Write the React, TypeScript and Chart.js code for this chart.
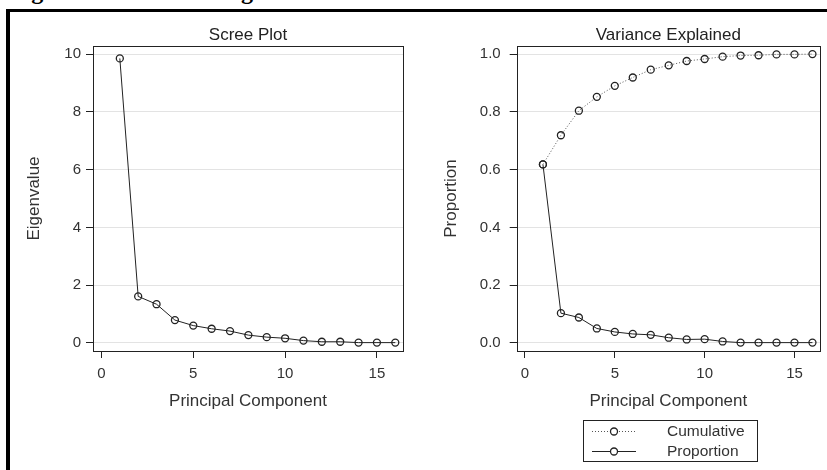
import React, { useEffect, useRef } from "react";
import { Chart, registerables } from "chart.js";

Chart.register(...registerables);

// ---- data ----
const components = [1, 2, 3, 4, 5, 6, 7, 8, 9, 10, 11, 12, 13, 14, 15, 16];
const eigenvalues = [9.85, 1.61, 1.34, 0.79, 0.6, 0.49, 0.41, 0.27, 0.2, 0.16, 0.08, 0.04, 0.04, 0.01, 0.01, 0.01];
const proportion = [0.618, 0.103, 0.088, 0.05, 0.038, 0.031, 0.028, 0.018, 0.012, 0.013, 0.005, 0.001, 0.001, 0.001, 0.001, 0.001];
const cumulative = [0.618, 0.719, 0.804, 0.852, 0.89, 0.919, 0.946, 0.961, 0.976, 0.983, 0.991, 0.995, 0.996, 0.999, 0.999, 1.0];
const xTicks = [0, 5, 10, 15];
const eigenTicks = [0, 2, 4, 6, 8, 10];
const propTicks = [0, 0.2, 0.4, 0.6, 0.8, 1.0];
const legendLabels = ["Cumulative", "Proportion"];

const FONT = "'Liberation Sans', Arial, sans-serif";
const INK = "#222";
const TEXT = "#333";

const framePlugin = {
  id: "frame",
  afterDatasetsDraw(chart: any) {
    const { ctx, chartArea: a } = chart;
    ctx.save();
    ctx.strokeStyle = INK;
    ctx.lineWidth = 1;
    ctx.strokeRect(Math.round(a.left) + 0.5, Math.round(a.top) + 0.5, Math.round(a.right - a.left), Math.round(a.bottom - a.top));
    ctx.restore();
  },
};

const legendPlugin = {
  id: "boxLegend",
  afterDraw(chart: any, _args: any, opts: any) {
    if (!opts || !opts.show) return;
    const { ctx } = chart;
    const ds = chart.data.datasets;
    const x0 = opts.x, y0 = opts.y, w = opts.w, h = opts.h;
    ctx.save();
    ctx.strokeStyle = INK;
    ctx.lineWidth = 1;
    ctx.strokeRect(x0 + 0.5, y0 + 0.5, w, h);
    const rows = [opts.row1, opts.row2];
    ds.forEach((d: any, i: number) => {
      const cy = rows[i];
      ctx.beginPath();
      ctx.setLineDash(d.borderDash || []);
      ctx.strokeStyle = d.borderColor;
      ctx.lineWidth = d.borderWidth;
      ctx.moveTo(x0 + opts.lineStart, cy + 0.5);
      ctx.lineTo(x0 + opts.lineEnd, cy + 0.5);
      ctx.stroke();
      ctx.setLineDash([]);
      ctx.beginPath();
      ctx.arc(x0 + (opts.lineStart + opts.lineEnd) / 2, cy + 0.5, d.pointRadius, 0, Math.PI * 2);
      ctx.fillStyle = "#fff";
      ctx.fill();
      ctx.strokeStyle = d.pointBorderColor;
      ctx.lineWidth = d.pointBorderWidth;
      ctx.stroke();
      ctx.fillStyle = TEXT;
      ctx.font = `15.5px ${FONT}`;
      ctx.textBaseline = "middle";
      ctx.textAlign = "left";
      ctx.fillText(d.label, x0 + opts.textX, cy + 1);
    });
    ctx.restore();
  },
};

type PanelProps = {
  left: number;
  width: number;
  title: string;
  yTitle: string;
  yTicks: number[];
  yMin: number;
  yMax: number;
  yWidth: number;
  yTitlePad: number;
  yTickPad: number;
  padRight: number;
  decimals: number;
  datasets: any[];
  legend?: any;
};

function Panel(p: PanelProps) {
  const ref = useRef<HTMLCanvasElement | null>(null);
  useEffect(() => {
    if (!ref.current) return;
    const tickFont = { family: FONT, size: 15 };
    const titleFont = { family: FONT, size: 17, weight: "normal" as const };
    const chart = new Chart(ref.current, {
      type: "line",
      data: { datasets: p.datasets },
      plugins: [framePlugin, legendPlugin],
      options: {
        responsive: false,
        animation: false,
        devicePixelRatio: 1,
        events: [],
        layout: { padding: { left: 10, right: p.padRight, top: 0, bottom: 0 } },
        plugins: {
          legend: { display: false },
          tooltip: { enabled: false },
          title: {
            display: true,
            text: p.title,
            fullSize: false,
            color: INK,
            font: titleFont,
            padding: { top: 24.8, bottom: 0.8 },
          },
          boxLegend: p.legend || { show: false },
        } as any,
        scales: {
          x: {
            type: "linear",
            min: -0.46,
            max: 16.42,
            afterBuildTicks: (s: any) => {
              s.ticks = xTicks.map((v) => ({ value: v }));
            },
            afterFit: (s: any) => {
              s.height = 119;
            },
            border: { display: false },
            grid: { drawOnChartArea: false, drawTicks: true, tickLength: 7, tickColor: INK, tickWidth: 1 },
            ticks: { font: tickFont, color: TEXT, padding: 7, maxRotation: 0, autoSkip: false, callback: (v: any) => String(v) },
            title: { display: true, text: "Principal Component", font: titleFont, color: TEXT, padding: { top: 0, bottom: 58.8 } },
          },
          y: {
            type: "linear",
            min: p.yMin,
            max: p.yMax,
            afterBuildTicks: (s: any) => {
              s.ticks = p.yTicks.map((v) => ({ value: v }));
            },
            afterFit: (s: any) => {
              s.width = p.yWidth;
            },
            border: { display: false },
            grid: { color: "#e3e3e3", lineWidth: 1, drawTicks: true, tickLength: 7, tickColor: INK, tickWidth: 1 },
            ticks: { font: tickFont, color: TEXT, padding: p.yTickPad, autoSkip: false, callback: (v: any) => Number(v).toFixed(p.decimals) },
            title: { display: true, text: p.yTitle, font: titleFont, color: TEXT, padding: { top: p.yTitlePad, bottom: 0 } },
          },
        },
      } as any,
    });
    return () => chart.destroy();
  }, []);
  return (
    <canvas
      ref={ref}
      width={p.width}
      height={470}
      style={{ position: "absolute", left: p.left, top: 0, width: p.width, height: 470, display: "block" }}
    />
  );
}

const pointStyleBase = {
  pointRadius: 3.5,
  pointBorderWidth: 1.3,
  pointBorderColor: "#222",
  pointBackgroundColor: "rgba(255,255,255,0)",
  fill: false,
  tension: 0,
};

export default function App() {
  const eigenSet = [
    {
      label: "Eigenvalue",
      data: components.map((c, i) => ({ x: c, y: eigenvalues[i] })),
      borderColor: "#222",
      borderWidth: 1,
      ...pointStyleBase,
    },
  ];
  const varSets = [
    {
      label: legendLabels[0],
      data: components.map((c, i) => ({ x: c, y: cumulative[i] })),
      borderColor: "#555",
      borderWidth: 1,
      borderDash: [1, 2],
      ...pointStyleBase,
    },
    {
      label: legendLabels[1],
      data: components.map((c, i) => ({ x: c, y: proportion[i] })),
      borderColor: "#222",
      borderWidth: 1,
      ...pointStyleBase,
    },
  ];
  return (
    <div style={{ position: "absolute", left: 0, top: 0, width: 827, height: 470, overflow: "hidden", background: "#fff" }}>
      <div
        style={{
          position: "absolute",
          left: 10,
          top: -22,
          whiteSpace: "nowrap",
          fontFamily: "'Liberation Serif', 'Times New Roman', serif",
          fontWeight: "bold",
          fontSize: 24,
          lineHeight: "26px",
          color: "#000",
        }}
      >
        Figure 1: Scree Plot Eigenvalue and Information Variance
      </div>
      <div
        style={{
          position: "absolute",
          left: 6,
          top: 9,
          width: 900,
          height: 600,
          borderLeft: "4px solid #000",
          borderTop: "3px solid #000",
          boxSizing: "border-box",
        }}
      />
      <Panel
        left={0}
        width={415}
        title="Scree Plot"
        yTitle="Eigenvalue"
        yTicks={eigenTicks}
        yMin={-0.28}
        yMax={10.28}
        yWidth={83}
        yTitlePad={13.8}
        yTickPad={5}
        padRight={12}
        decimals={0}
        datasets={eigenSet}
      />
      <Panel
        left={415}
        width={412}
        title="Variance Explained"
        yTitle="Proportion"
        yTicks={propTicks}
        yMin={-0.028}
        yMax={1.028}
        yWidth={91.7}
        yTitlePad={15.8}
        yTickPad={9}
        padRight={7}
        decimals={1}
        datasets={varSets}
        legend={{ show: true, x: 168, y: 420, w: 174, h: 41, row1: 431, row2: 451, lineStart: 9, lineEnd: 53, textX: 84 }}
      />
    </div>
  );
}
